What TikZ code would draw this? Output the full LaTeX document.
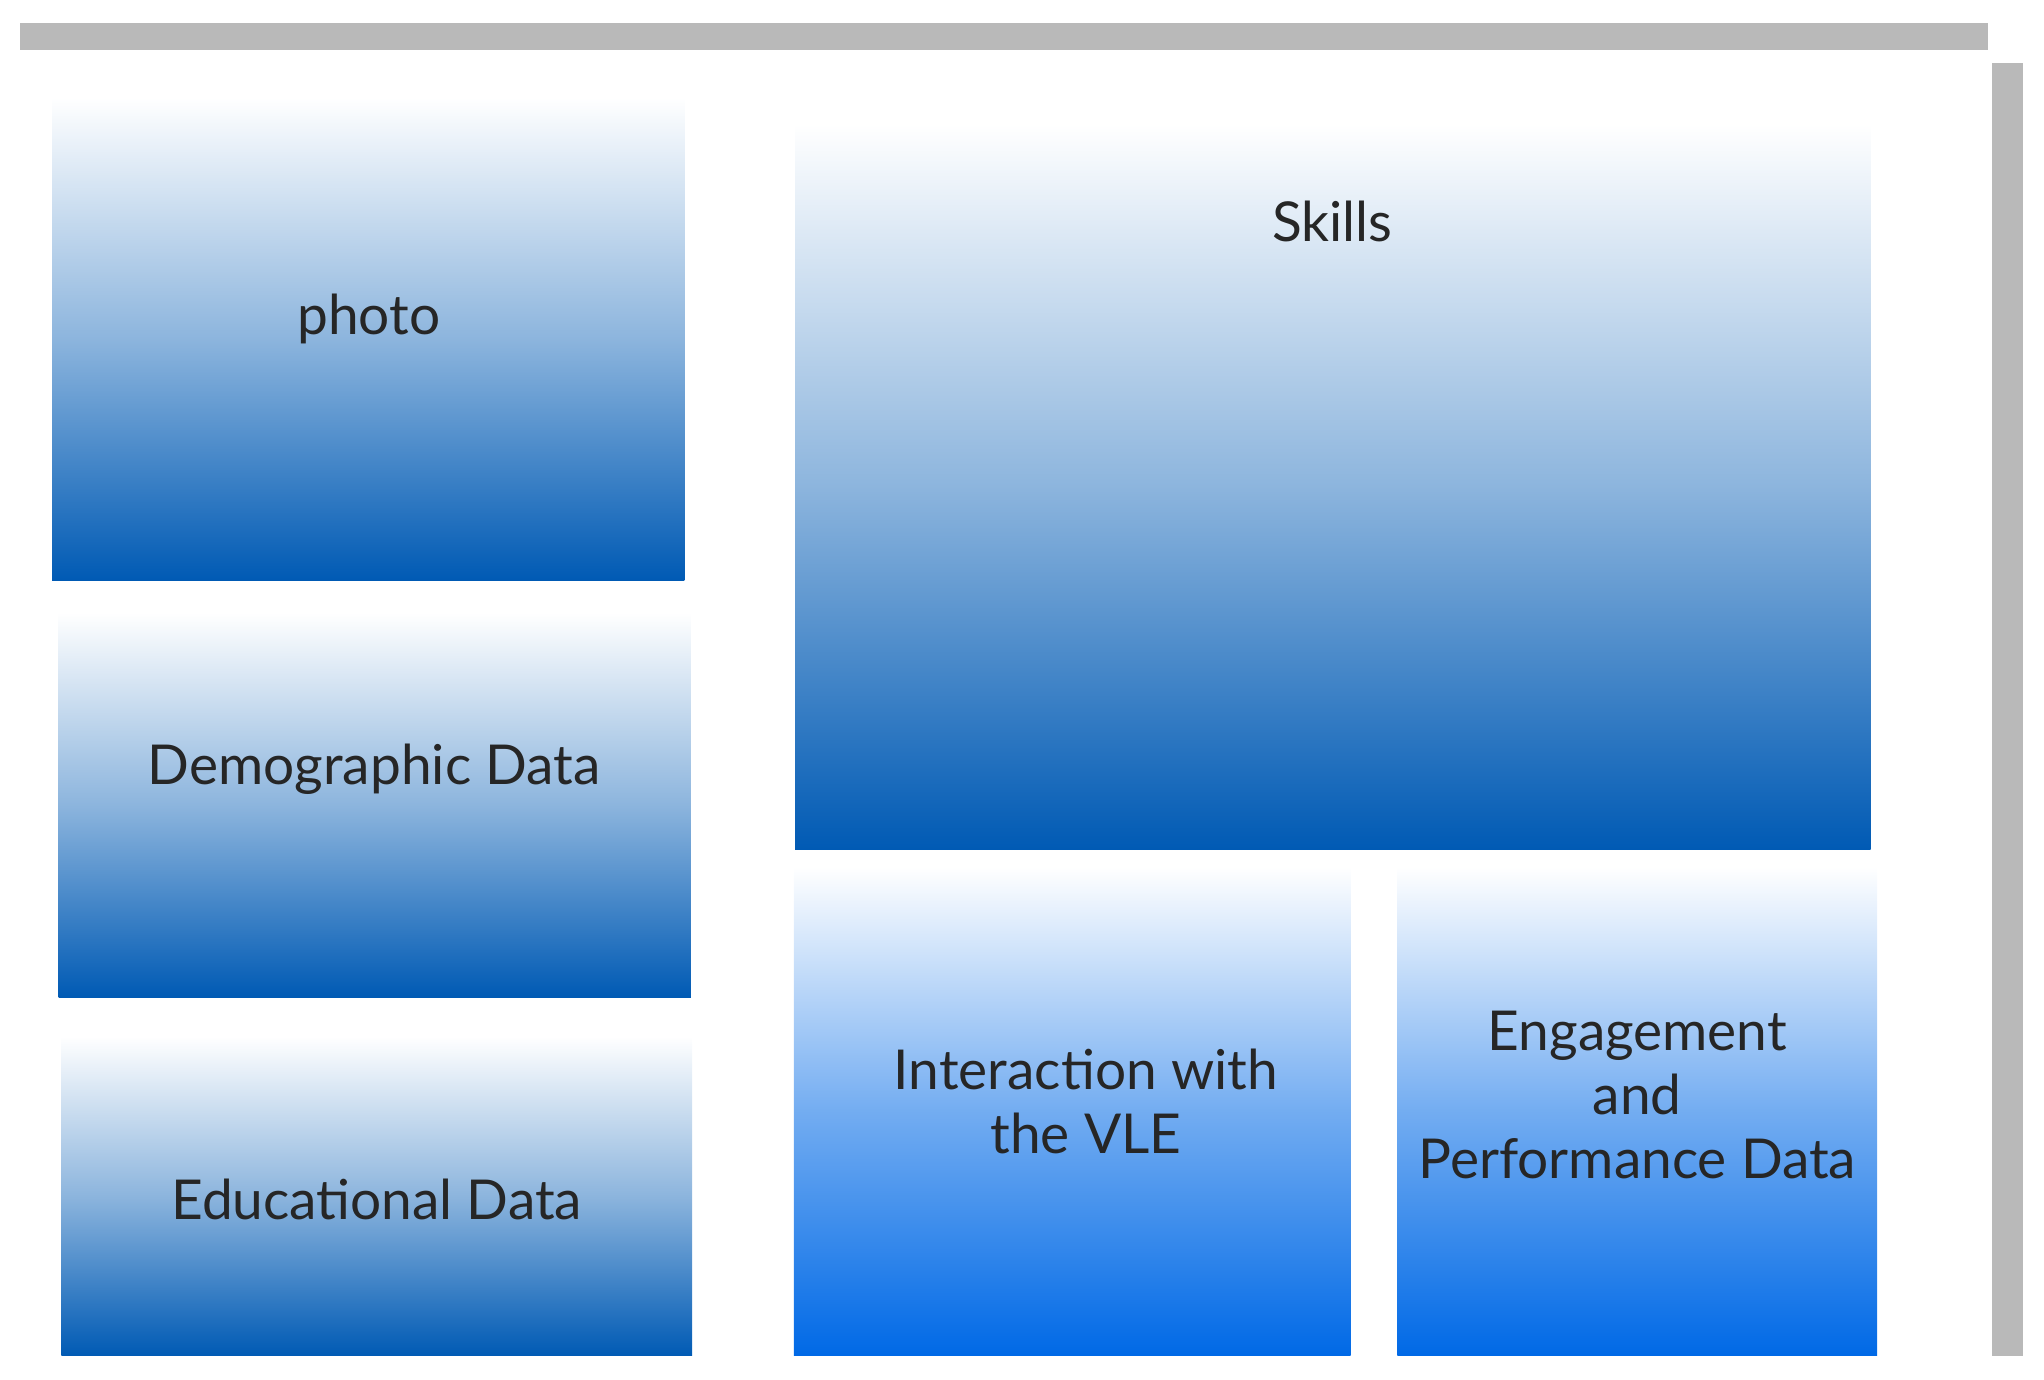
\documentclass[tikz,border=0pt]{standalone}
\usepackage{fontspec}
\setmainfont{Lato}
\definecolor{dblue}{RGB}{0,90,180}
\definecolor{bblue}{RGB}{0,105,230}
\begin{document}
\begin{tikzpicture}[x=0.01cm,y=-0.01cm,
  boxd/.style={shade,top color=white,bottom color=dblue,middle color=dblue!45},
  boxb/.style={shade,top color=white,bottom color=bblue,middle color=bblue!55},
  lbl/.style={font=\fontsize{12}{14}\selectfont,align=center,text=black!85}]
\useasboundingbox (0,0) rectangle (1568,1058);
\fill[gray!55] (15,18) rectangle (1525,38);
\fill[gray!55] (1528,48) rectangle (1552,1040);
\path[boxd] (40,75) rectangle (525,445);
\node[lbl] (photo) at (283,245) {photo};
\path[boxd] (45,470) rectangle (530,765);
\node[lbl] (demo) at (287,590) {Demographic Data};
\path[boxd] (47,795) rectangle (531,1040);
\node[lbl] (edu) at (289,920) {Educational Data};
\path[boxd] (610,95) rectangle (1435,652);
\node[lbl] (skills) at (1022,170) {Skills};
\path[boxb] (609,665) rectangle (1036,1040);
\node[lbl] (vle) at (833,845) {Interaction with\\the VLE};
\path[boxb] (1072,665) rectangle (1440,1040);
\node[lbl] (eng) at (1256,840) {Engagement\\and\\Performance Data};
\end{tikzpicture}
\end{document}
